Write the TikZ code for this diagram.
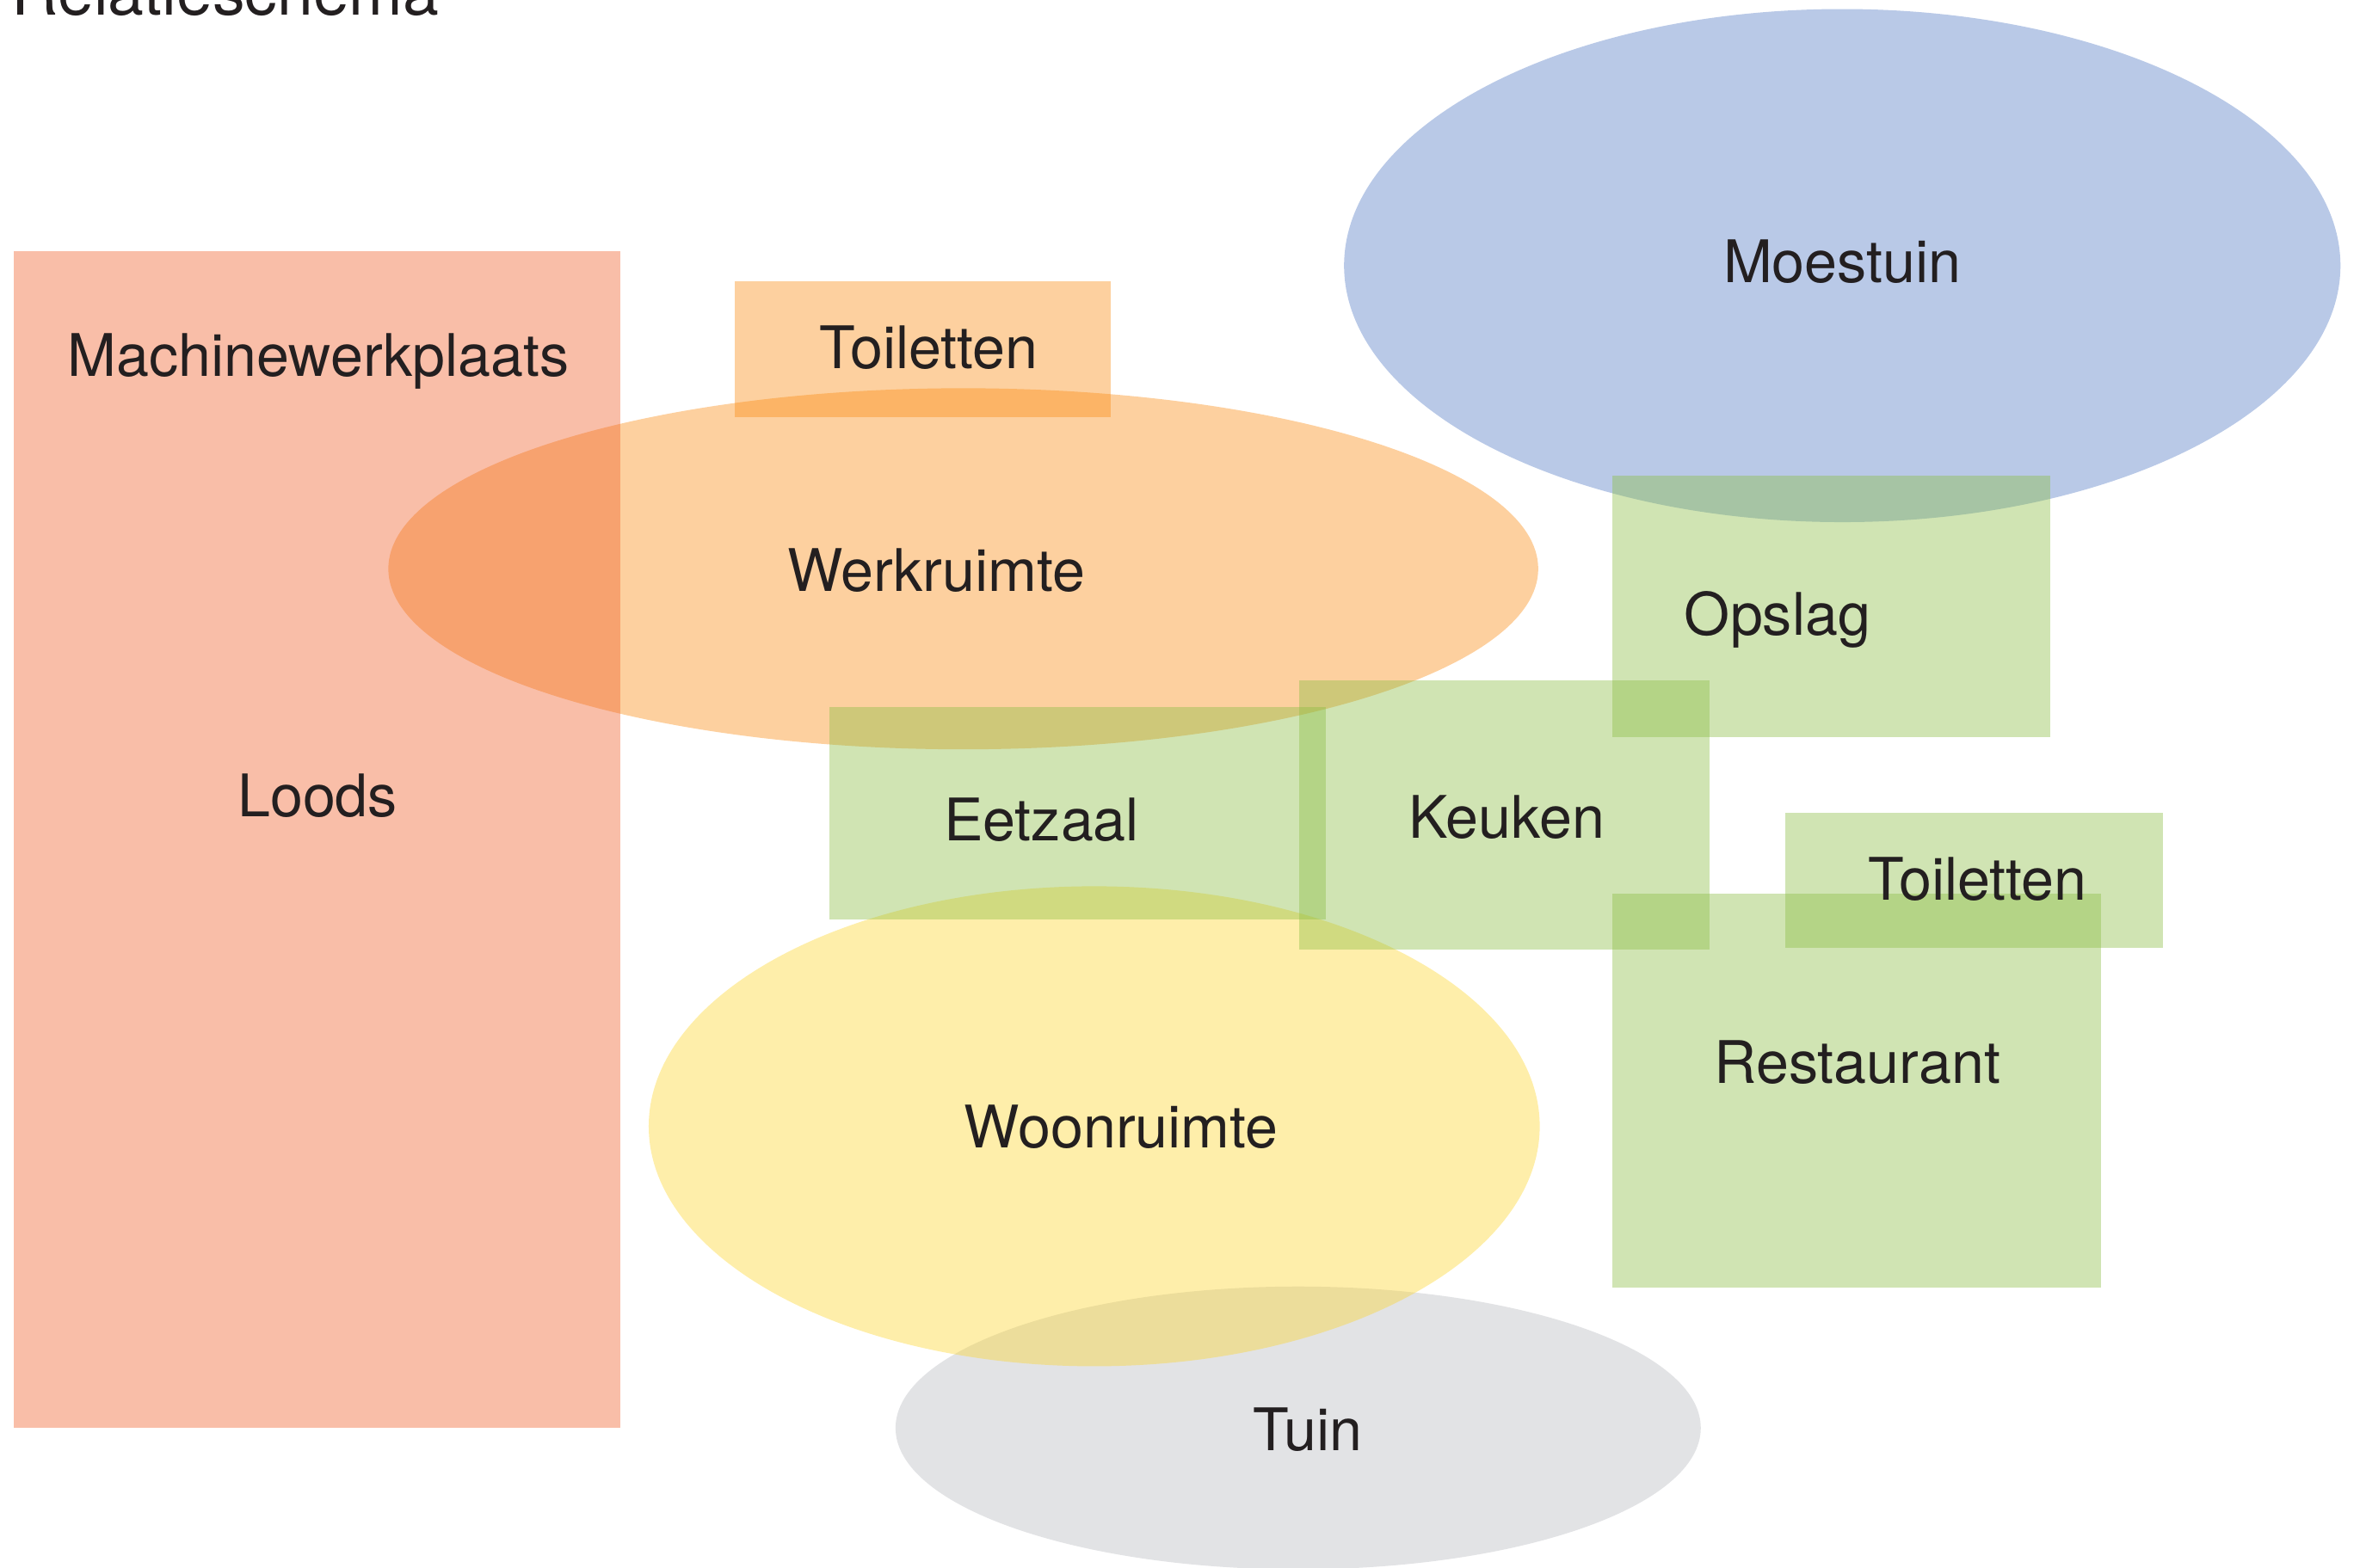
\documentclass[tikz,border=0pt]{standalone}
\usepackage{fontspec}
\setmainfont{TeX Gyre Heros}
\definecolor{cloods}{RGB}{240,93,38}
\definecolor{corange}{RGB}{250,138,15}
\definecolor{cblue}{RGB}{80,120,195}
\definecolor{cgreen}{RGB}{138,188,65}
\definecolor{cyellow}{RGB}{253,213,43}
\definecolor{cgrey}{RGB}{183,185,190}
\definecolor{ctext}{HTML}{231F20}
\tikzset{
  area/.style={fill opacity=0.4},
  lbl/.style={anchor=base, inner sep=0pt, text=ctext, font=\fontsize{39}{47}\selectfont},
  ttl/.style={anchor=base west, inner sep=0pt, text=ctext, font=\fontsize{43}{52}\selectfont}
}
\begin{document}
\begin{tikzpicture}[x=1pt,y=-1pt]
\useasboundingbox (0,0) rectangle (1568,1042);
\clip (0,0) rectangle (1568,1042);
% areas
\fill[area,cblue] (1224,176.5) ellipse [x radius=331, y radius=170.5];
\fill[area,corange] (640,378) ellipse [x radius=382, y radius=120];
\fill[area,corange] (488,187) rectangle (738,277);
\fill[area,cloods] (9,167) rectangle (412,949);
\fill[area,cgrey] (862.5,949) ellipse [x radius=267.5, y radius=94];
\fill[area,cyellow] (727,748.5) ellipse [x radius=296, y radius=159.5];
\fill[area,cgreen] (1071,316) rectangle (1362,490);
\fill[area,cgreen] (551,470) rectangle (881,611);
\fill[area,cgreen] (863,452) rectangle (1136,631);
\fill[area,cgreen] (1186,540) rectangle (1437,630);
\fill[area,cgreen] (1071,594) rectangle (1396,856);
% labels
\node[ttl] (title) at (7.6,10) {Relatieschema};
\node[lbl] (machine) at (211.5,250) {Machinewerkplaats};
\node[lbl] (loods) at (211,543) {Loods};
\node[lbl] (toil1) at (617,245) {Toiletten};
\node[lbl] (werk) at (622,393) {Werkruimte};
\node[lbl] (moes) at (1224,188) {Moestuin};
\node[lbl] (opslag) at (1181,422) {Opslag};
\node[lbl] (eet) at (692,559) {Eetzaal};
\node[lbl] (keuken) at (1001,557) {Keuken};
\node[lbl] (toil2) at (1314,598) {Toiletten};
\node[lbl] (rest) at (1234,720) {Restaurant};
\node[lbl] (woon) at (745,763) {Woonruimte};
\node[lbl] (tuin) at (869,964) {Tuin};
\end{tikzpicture}
\end{document}
